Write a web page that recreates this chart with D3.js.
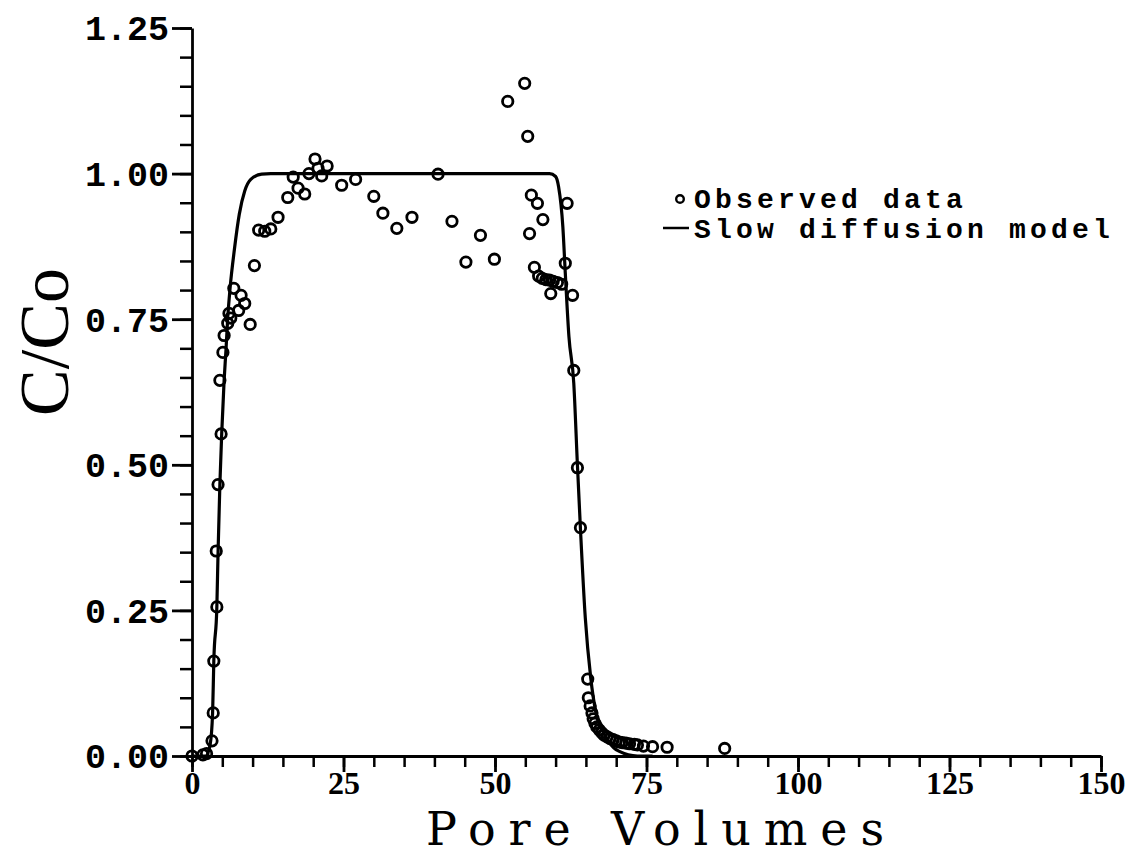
<!DOCTYPE html>
<html>
<head>
<meta charset="utf-8">
<script src="https://cdn.jsdelivr.net/npm/d3@7"></script>
<style>
  html, body { margin: 0; padding: 0; background: #fff; }
  svg { display: block; }
</style>
</head>
<body>
<svg id="chart" width="1134" height="856"></svg>
<script>
// ---- data ----
const obsX = [0, 1.8, 2.4, 3.3, 3.5, 3.6, 4.1, 4.0, 4.3, 4.8, 4.6, 5.1, 5.3, 5.9, 6.1, 6.4, 6.9, 7.7, 8.1, 8.7, 9.6,
  10.3, 11.0, 12.0, 13.0, 14.2, 15.8, 16.7, 17.5, 18.6, 19.3, 20.3, 20.8, 21.4, 22.3, 24.7, 27.0, 30.0, 31.5, 33.8,
  36.3, 40.6, 42.9, 45.2, 47.6, 49.9, 52.1, 54.9, 55.4, 55.7, 56.0, 57.0, 57.9, 61.9, 56.5, 57.2, 57.8, 58.4, 59.0,
  59.6, 60.3, 61.0, 61.6, 59.2, 62.8, 63.0, 63.6, 64.1, 65.3, 65.4, 65.7, 66.0, 66.2, 66.5, 66.8, 67.2, 67.6, 68.0,
  68.5, 69.0, 69.5, 70.0, 70.5, 71.0, 71.6, 72.2, 73.0, 73.5, 74.5, 76.0, 78.4, 87.9];
const obsY = [0, 0.002, 0.004, 0.026, 0.074, 0.163, 0.256, 0.352, 0.466, 0.553, 0.645, 0.693, 0.722, 0.743, 0.76, 0.752, 0.803, 0.765, 0.791, 0.777, 0.741,
  0.842, 0.903, 0.901, 0.905, 0.925, 0.959, 0.994, 0.975, 0.965, 1.0, 1.025, 1.009, 0.996, 1.013, 0.98, 0.99, 0.961, 0.932, 0.906,
  0.925, 0.999, 0.918, 0.848, 0.894, 0.853, 1.124, 1.155, 1.064, 0.897, 0.963, 0.949, 0.921, 0.949, 0.839, 0.824, 0.82, 0.818, 0.817,
  0.815, 0.813, 0.81, 0.846, 0.794, 0.791, 0.662, 0.495, 0.392, 0.132, 0.10, 0.086, 0.074, 0.064, 0.056, 0.05, 0.045, 0.04, 0.036,
  0.033, 0.03, 0.028, 0.026, 0.024, 0.023, 0.022, 0.021, 0.02, 0.019, 0.017, 0.016, 0.015, 0.013];

const modelX = [0, 2.3, 3.0, 3.4, 3.6, 4.1, 4.3, 4.6, 4.9, 5.3, 5.6, 5.9, 6.3, 7.0, 7.8, 8.7, 9.7, 11.5, 13, 30, 45, 59,
  60.0, 60.5, 61.2, 61.6, 62.2, 63.0, 63.6, 64.1, 64.9, 65.8, 66.6, 67.9, 69.6, 70.7, 72.0, 73.5, 76];
const modelY = [0, 0, 0.02, 0.074, 0.163, 0.256, 0.35, 0.466, 0.553, 0.645, 0.696, 0.753, 0.805, 0.87, 0.93, 0.97, 0.99, 0.999, 1.0, 1.0, 1.0, 1.0,
  0.995, 0.977, 0.908, 0.829, 0.72, 0.64, 0.5, 0.39, 0.237, 0.134, 0.077, 0.04, 0.014, 0.007, 0.002, 0, 0];

const xTicks = [0, 25, 50, 75, 100, 125, 150];
const xMinor = d3.range(0, 151, 5);
const yTicks = [0, 0.25, 0.5, 0.75, 1.0, 1.25];
const yMinor = d3.range(0, 1.2501, 0.05);
const xTitle = "Pore Volumes";
const yTitle = "C/Co";
const legendLabels = ["Observed data", "Slow diffusion model"];

// ---- drawing ----
const svg = d3.select("#chart");
const x = d3.scaleLinear().domain([0, 150]).range([192, 1101]);
const y = d3.scaleLinear().domain([0, 1.25]).range([756, 28]);

// minor ticks
svg.append("g").attr("transform", `translate(${x(0)},0)`)
  .call(d3.axisLeft(y).tickValues(yMinor).tickSize(12).tickSizeOuter(0).tickFormat(""))
  .call(g => g.select(".domain").remove())
  .call(g => g.selectAll("line").attr("stroke", "#000").attr("stroke-width", 2.5));
svg.append("g").attr("transform", `translate(0,${y(0)})`)
  .call(d3.axisBottom(x).tickValues(xMinor).tickSize(11).tickSizeOuter(0).tickFormat(""))
  .call(g => g.select(".domain").remove())
  .call(g => g.selectAll("line").attr("stroke", "#000").attr("stroke-width", 2.5));

// major axes
const yAxis = svg.append("g").attr("transform", `translate(${x(0)},0)`)
  .call(d3.axisLeft(y).tickValues(yTicks).tickSize(20).tickSizeOuter(0).tickPadding(3).tickFormat(d3.format(".2f")));
yAxis.select(".domain").attr("stroke", "#000").attr("stroke-width", 2.8);
yAxis.selectAll("line").attr("stroke", "#000").attr("stroke-width", 2.8);
yAxis.selectAll("text").attr("font-family", "'Liberation Mono', monospace").attr("font-weight", "bold")
  .attr("font-size", 35).attr("fill", "#000").attr("dy", "0.34em");

const xAxis = svg.append("g").attr("transform", `translate(0,${y(0)})`)
  .call(d3.axisBottom(x).tickValues(xTicks).tickSize(16).tickSizeOuter(0).tickPadding(-1).tickFormat(d3.format("d")));
xAxis.select(".domain").attr("stroke", "#000").attr("stroke-width", 2.8);
xAxis.selectAll("line").attr("stroke", "#000").attr("stroke-width", 2.8);
xAxis.selectAll("text").attr("font-family", "'Liberation Serif', serif").attr("font-weight", "bold")
  .attr("font-size", 32).attr("fill", "#000");

// axis titles
svg.append("text").attr("x", 655).attr("y", 845).attr("text-anchor", "middle")
  .attr("font-family", "'DejaVu Serif', serif").attr("font-size", 46)
  .attr("textLength", 458).attr("lengthAdjust", "spacing")
  .text(xTitle);
svg.append("text").attr("transform", "translate(68,342) rotate(-90)").attr("text-anchor", "middle")
  .attr("font-family", "'Liberation Serif', serif").attr("font-size", 70)
  .text(yTitle);

// model line
const modelPts = modelX.map((d, i) => [d, modelY[i]]);
svg.append("path").datum(modelPts)
  .attr("fill", "none").attr("stroke", "#000").attr("stroke-width", 3.2)
  .attr("d", d3.line().x(d => x(d[0])).y(d => y(d[1])).curve(d3.curveMonotoneX));

// observed points
const obsPts = obsX.map((d, i) => [d, obsY[i]]);
svg.append("g").selectAll("circle").data(obsPts).join("circle")
  .attr("cx", d => x(d[0])).attr("cy", d => y(d[1])).attr("r", 5.2)
  .attr("fill", "none").attr("stroke", "#000").attr("stroke-width", 2.8);

// legend
const lg = svg.append("g");
lg.append("circle").attr("cx", 680).attr("cy", 199).attr("r", 3.8)
  .attr("fill", "none").attr("stroke", "#000").attr("stroke-width", 2.4);
lg.append("line").attr("x1", 663).attr("x2", 689).attr("y1", 228).attr("y2", 228)
  .attr("stroke", "#000").attr("stroke-width", 2.5);
lg.selectAll("text").data(legendLabels).join("text")
  .attr("x", 694).attr("y", (d, i) => 208 + i * 30)
  .attr("font-family", "'Liberation Mono', monospace").attr("font-weight", "bold")
  .attr("font-size", 28).attr("letter-spacing", 4.2).attr("fill", "#000")
  .text(d => d);
</script>
</body>
</html>
